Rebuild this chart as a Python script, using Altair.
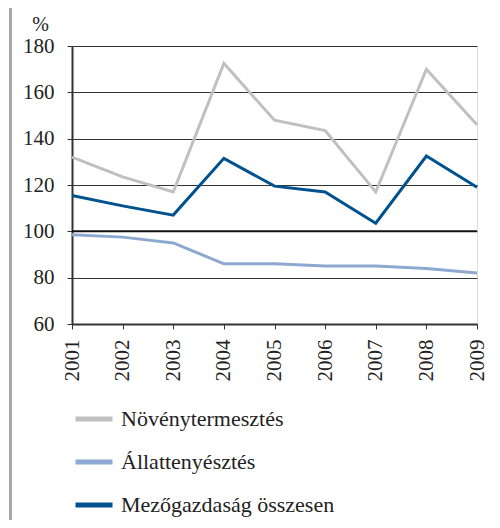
import altair as alt
import pandas as pd

years = ["2001", "2002", "2003", "2004", "2005", "2006", "2007", "2008", "2009"]
novenytermesztes = [132, 123.5, 117, 172.5, 148, 143.5, 117, 170, 146]
allattenyesztes = [98.5, 97.5, 95, 86, 86, 85, 85, 84, 82]
osszesen = [115.5, 111, 107, 131.5, 119.5, 117, 103.5, 132.5, 119]

series_names = ["Növénytermesztés", "Állattenyésztés", "Mezőgazdaság összesen"]
series_colors = ["#c0c0c0", "#8ea9d1", "#00528f"]
y_ticks = [60, 80, 100, 120, 140, 160, 180]

rows = []
for name, vals in zip(series_names, [novenytermesztes, allattenyesztes, osszesen]):
    for y, v in zip(years, vals):
        rows.append({"year": y, "value": v, "series": name})
df = pd.DataFrame(rows)

FONT = "Times New Roman, Liberation Serif, DejaVu Serif, serif"

x_enc = alt.X(
    "year:O",
    scale=alt.Scale(type="point", padding=0),
    axis=alt.Axis(
        title=None, labelAngle=-90, labelAlign="right", labelBaseline="middle",
        labelFont=FONT, labelFontSize=21, labelColor="#222", labelPadding=10,
        tickColor="#333", tickSize=5, domainColor="#333", domainWidth=2, grid=False,
    ),
)

lines = alt.Chart(df).mark_line(strokeWidth=3).encode(
    x=x_enc,
    y=alt.Y(
        "value:Q",
        scale=alt.Scale(domain=[60, 180], nice=False, zero=False),
        axis=alt.Axis(
            values=y_ticks, title="%", titleAngle=0, titleX=-32, titleY=-16,
            titleAlign="center", titleBaseline="alphabetic", titleFont=FONT,
            titleFontSize=20, titleFontWeight="normal", titleColor="#222",
            labelFont=FONT, labelFontSize=21, labelColor="#222", labelPadding=13,
            tickColor="#333", tickSize=5, domainColor="#333", domainWidth=2,
            grid=True, gridColor="#333", gridWidth=1,
        ),
    ),
    color=alt.Color(
        "series:N",
        scale=alt.Scale(domain=series_names, range=series_colors),
        sort=series_names,
        legend=alt.Legend(
            title=None, orient="none", legendX=1, legendY=352, direction="vertical",
            symbolType="stroke", symbolSize=1369, symbolStrokeWidth=5,
            labelFont=FONT, labelFontSize=22, labelColor="#222", labelOffset=6,
            rowPadding=11, labelLimit=400,
        ),
    ),
    order=alt.value(0),
)

ref_line = alt.Chart(pd.DataFrame({"v": [100]})).mark_rule(color="#111", strokeWidth=2).encode(
    y=alt.Y("v:Q", scale=alt.Scale(domain=[60, 180]))
)

left_border = alt.Chart(pd.DataFrame({"v": [0]})).mark_rule(
    color="#a8a8a8", strokeWidth=3, clip=False
).encode(x=alt.value(-61.5), y=alt.value(-40), y2=alt.value(480))

chart = alt.layer(lines, ref_line, left_border).properties(
    width=405, height=278,
    autosize=alt.AutoSizeParams(type="none"),
    padding={"left": 64, "top": 38, "right": 15, "bottom": 196},
).configure_view(stroke="#333", strokeWidth=2).configure(background="white", font=FONT)

chart.save("out.html", embed_options={"renderer": "svg", "actions": False})
